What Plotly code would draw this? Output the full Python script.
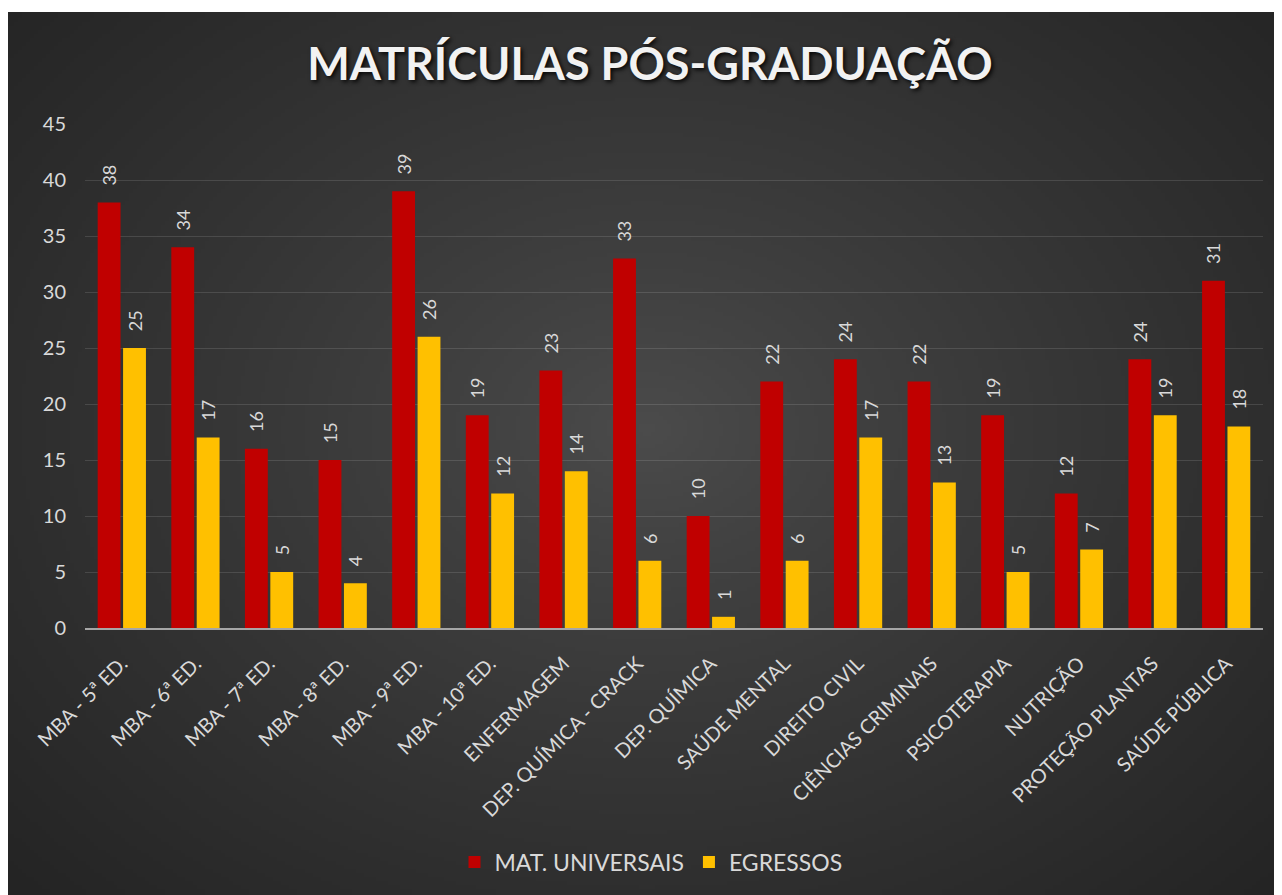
import base64
import struct
import zlib

import numpy as np
import plotly.graph_objects as go

# ---------------- data ----------------
categories = [
    "MBA - 5ª ED.", "MBA - 6ª ED.", "MBA - 7ª ED.", "MBA - 8ª ED.",
    "MBA - 9ª ED.", "MBA - 10ª ED.", "ENFERMAGEM", "DEP. QUÍMICA - CRACK",
    "DEP. QUÍMICA", "SAÚDE MENTAL", "DIREITO CIVIL", "CIÊNCIAS CRIMINAIS",
    "PSICOTERAPIA", "NUTRIÇÃO", "PROTEÇÃO PLANTAS", "SAÚDE PÚBLICA",
]
mat_universais = [38, 34, 16, 15, 39, 19, 23, 33, 10, 22, 24, 22, 19, 12, 24, 31]
egressos = [25, 17, 5, 4, 26, 12, 14, 6, 1, 6, 17, 13, 5, 7, 19, 18]
series_names = ["MAT. UNIVERSAIS", "EGRESSOS"]
y_ticks = [0, 5, 10, 15, 20, 25, 30, 35, 40, 45]
title_text = "MATRÍCULAS PÓS-GRADUAÇÃO"

# ---------------- layout geometry ----------------
# page body has an 8px margin, so the figure starts at (8, 8) in the window
OFF = 8
W, H = 1282 - OFF, 895 - OFF
M_L, M_R, M_T, M_B = 85 - OFF, 19, 124 - OFF, 267
PW, PH = W - M_L - M_R, H - M_T - M_B
BG_X0, BG_Y0 = 0, 12 - OFF  # white border of the original picture

FONT = "Lato, 'Open Sans', sans-serif"
TXT = "#d9d9d9"


# ---------------- radial gradient background as PNG ----------------
def make_png(arr):
    h, w, _ = arr.shape
    raw = b"".join(b"\x00" + arr[i].tobytes() for i in range(h))

    def chunk(tag, data):
        c = struct.pack(">I", len(data)) + tag + data
        return c + struct.pack(">I", zlib.crc32(tag + data) & 0xFFFFFFFF)

    return (b"\x89PNG\r\n\x1a\n"
            + chunk(b"IHDR", struct.pack(">IIBBBBB", w, h, 8, 2, 0, 0, 0))
            + chunk(b"IDAT", zlib.compress(raw, 9))
            + chunk(b"IEND", b""))


gw, gh = 320, 222
yy, xx = np.mgrid[0:gh, 0:gw]
cx, cy = gw * 0.5, gh * 0.47
d = np.sqrt(((xx - cx) / (gw * 0.5)) ** 2 + ((yy - cy) / (gh * 0.55)) ** 2)
d = np.clip(d / d.max(), 0, 1)
c_center, c_edge = 76.0, 36.0
val = (c_center + (c_edge - c_center) * d ** 0.85).astype(np.uint8)
img = np.stack([val, val, val], axis=-1)
bg_uri = "data:image/png;base64," + base64.b64encode(make_png(img)).decode()

# ---------------- figure ----------------
fig = go.Figure()
pad = "\u00a0\u00a0\u00a0"
for name, vals, color in [
    (series_names[0], mat_universais, "#C00000"),
    (series_names[1], egressos, "#FFC000"),
]:
    fig.add_trace(go.Bar(
        x=categories, y=vals, name=name,
        marker=dict(color=color, line=dict(width=0)),
        texttemplate=pad + "%{y}", textposition="outside", textangle=-90,
        constraintext="none",
        textfont=dict(family=FONT, size=18, color=TXT), cliponaxis=False,
    ))

fig.update_layout(
    width=W, height=H,
    margin=dict(l=M_L, r=M_R, t=M_T, b=M_B, autoexpand=False),
    paper_bgcolor="white",
    plot_bgcolor="rgba(0,0,0,0)",
    barmode="group", bargap=0.31, bargroupgap=0.1,
    title=dict(
        text=f"<b>{title_text}</b>",
        x=(650 - OFF) / W, xanchor="center",
        y=1 - (64 - OFF) / H, yanchor="middle", xref="container", yref="container",
        font=dict(family=FONT, size=45, color="#f2f2f2",
                  shadow="2px 2px 4px rgba(0,0,0,0.9)"),
    ),
    showlegend=True,
    legend=dict(
        orientation="h", x=(651 - 85) / PW, xanchor="center",
        y=(M_T + PH - (862 - OFF)) / PH, yanchor="middle",
        font=dict(family=FONT, size=23, color=TXT),
        bgcolor="rgba(0,0,0,0)", traceorder="normal",
    ),
    font=dict(family=FONT, color=TXT),
    images=[dict(
        source=bg_uri, xref="paper", yref="paper",
        x=(BG_X0 - M_L) / PW, y=1 + (M_T - BG_Y0) / PH,
        sizex=(W - BG_X0) / PW, sizey=(H - BG_Y0) / PH,
        xanchor="left", yanchor="top", sizing="stretch", layer="below",
    )],
)
fig.update_xaxes(
    tickangle=-45, tickfont=dict(family=FONT, size=20, color=TXT),
    showline=True, linecolor="#a6a6a6", linewidth=2,
    showgrid=False, ticks="", ticklabelstandoff=14, fixedrange=True,
)
fig.update_yaxes(
    range=[0, 45], tickvals=y_ticks,
    tickfont=dict(family=FONT, size=20, color=TXT),
    showgrid=True, gridcolor="rgba(255,255,255,0.12)", gridwidth=1,
    zeroline=False, showline=False, ticks="", ticklabelstandoff=18,
    fixedrange=True,
)

fig.write_html("out.html")
